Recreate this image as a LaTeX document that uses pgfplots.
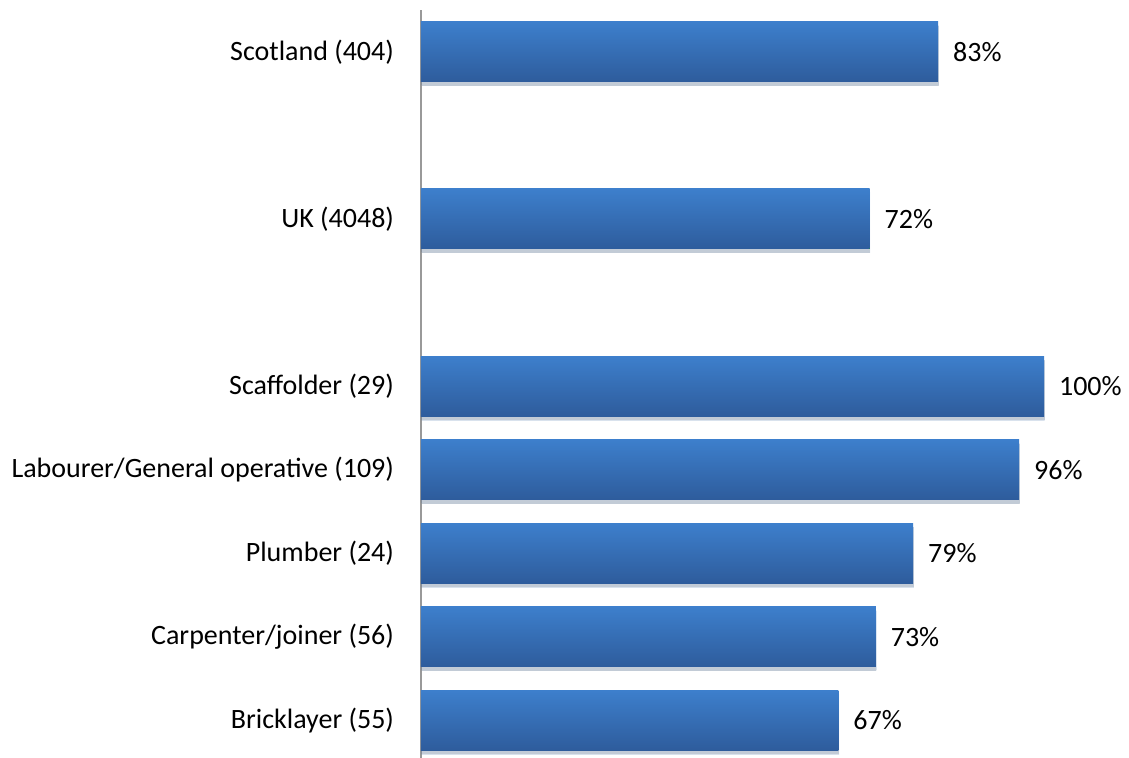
\documentclass[border=0pt]{standalone}
\usepackage{pgfplots}
\pgfplotsset{compat=1.18}
\usetikzlibrary{shadows}
\usepackage{fontspec}
\setmainfont{Carlito}
\definecolor{bartop}{HTML}{3D7FCC}
\definecolor{barbot}{HTML}{2E5C9C}
\begin{document}
\begin{tikzpicture}
\begin{axis}[
  scale only axis,
  width=311.5pt, height=374pt,
  xbar, bar width=30pt, bar shift=0pt,
  xmin=0, xmax=100,
  ymin=-0.45, ymax=8.5,
  hide x axis,
  axis y line*=left,
  y axis line style={draw=gray!80, line width=0.8pt, -},
  ytick={0,1,2,3,4,6,8},
  yticklabels={Bricklayer (55),Carpenter/joiner (56),Plumber (24),Labourer/General operative (109),Scaffolder (29),UK (4048),Scotland (404)},
  major tick length=0pt,
  yticklabel style={font=\fontsize{14}{16}\selectfont, xshift=-10pt},
  /pgf/number format/assume math mode=true,
  nodes near coords={\pgfmathprintnumber{\pgfplotspointmeta}\%},
  every node near coord/.append style={font=\fontsize{14}{16}\selectfont, black, xshift=4pt},
  every axis plot/.append style={draw=none, top color=bartop, bottom color=barbot,
     drop shadow={shadow xshift=0.3pt, shadow yshift=-2pt, opacity=0.18, fill=black!60}},
  clip=false,
]
\addplot coordinates {(67,0)};
\addplot coordinates {(73,1)};
\addplot coordinates {(79,2)};
\addplot coordinates {(96,3)};
\addplot coordinates {(100,4)};
\addplot coordinates {(72,6)};
\addplot coordinates {(83,8)};
\end{axis}
\pgfresetboundingbox
\path (current axis.south west) ++(-210.5pt,0) rectangle ++(564.5pt,379pt);
\end{tikzpicture}
\end{document}
